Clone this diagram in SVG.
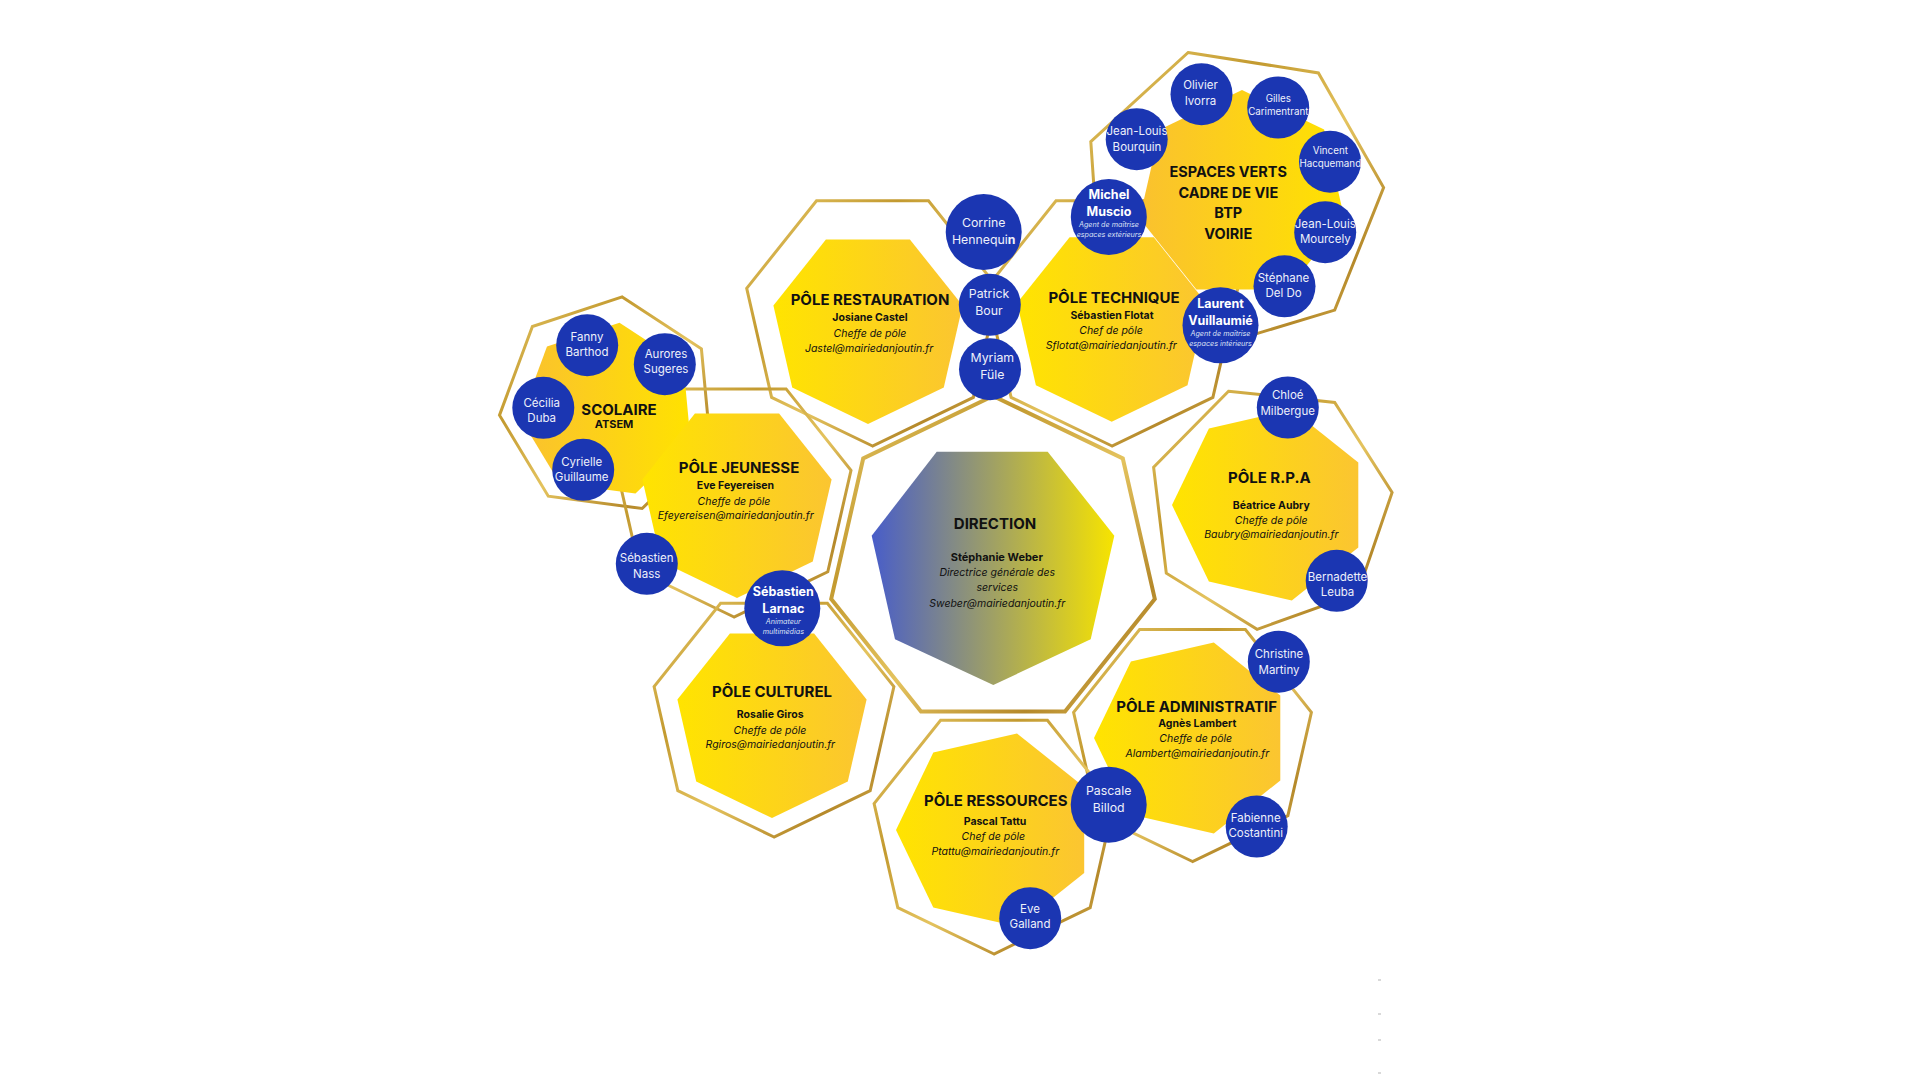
<svg xmlns="http://www.w3.org/2000/svg" width="1920" height="1080" viewBox="0 0 1920 1080">
<defs>
<linearGradient id="gy" x1="0" y1="0" x2="1" y2="0"><stop offset="0" stop-color="#FFE400"/><stop offset="1" stop-color="#FBC531"/></linearGradient>
<linearGradient id="gyr" x1="0" y1="0" x2="1" y2="0"><stop offset="0" stop-color="#FAC12F"/><stop offset="1" stop-color="#FFE200"/></linearGradient>
<linearGradient id="gdir" x1="0" y1="0" x2="1" y2="0"><stop offset="0" stop-color="#485DC9"/><stop offset="1" stop-color="#F7E400"/></linearGradient>
<linearGradient id="gold" x1="0" y1="0" x2="1" y2="1"><stop offset="0" stop-color="#E8CA68"/><stop offset="0.3" stop-color="#C39A30"/><stop offset="0.55" stop-color="#E4C35E"/><stop offset="0.8" stop-color="#B5892A"/><stop offset="1" stop-color="#DDB955"/></linearGradient>
<style>
.t{font-family:Inter,"Liberation Sans",sans-serif;text-anchor:middle}
.ti{font-weight:700;font-size:15px;fill:#111}
.ev{font-weight:700;font-size:14.5px;fill:#111}
.nm{font-weight:700;font-size:10.5px;fill:#111}
.it{font-style:italic;font-size:10.5px;fill:#111}
.pn{font-size:11.5px;fill:#EEF0FA}
.pl{font-size:12.3px;fill:#EEF0FA}
.ps{font-size:9.8px;fill:#EEF0FA}
.pb{font-weight:700;font-size:12.5px;fill:#fff}
.sb{font-style:italic;font-size:7.2px;fill:#DCE1F5}
.ring{fill:none;stroke:url(#gold);stroke-width:3;stroke-linejoin:miter}
.fy{fill:url(#gy)}
.fr{fill:url(#gyr)}
.c{fill:#1B36B2}
</style>
</defs>
<rect width="1920" height="1080" fill="#ffffff"/>

<g id="frames">
<polygon class="ring" points="872.5,446 771.6,397.4 746.7,288.3 816.5,200.8 928.5,200.8 998.3,288.3 973.4,397.4"/>
<polygon class="ring" points="1112,446 1011.1,397.4 986.2,288.3 1056,200.8 1168,200.8 1237.8,288.3 1212.9,397.4"/>
<polygon class="ring" points="1188.1,52.5 1318.4,72.9 1383.6,187.6 1334.7,310.1 1208.5,348.2 1099.9,273.2 1090.8,141.6"/>
<polygon class="ring" points="622.2,296.9 701.4,348.8 710.2,442.9 642.1,508.5 548.3,496.2 499.5,415.2 532.4,326.5"/>
<polygon class="ring" points="734,617 640.2,571.8 617,470.3 681.9,388.9 786.1,388.9 851,470.3 827.8,571.8"/>
<polygon class="ring" points="774,837 677.8,790.7 654.1,686.6 720.6,603.2 827.4,603.2 893.9,686.6 870.2,790.7"/>
<polygon class="ring" style="stroke-width:4" points="993,396 1122.8,458.5 1154.8,598.9 1065,711.6 921,711.6 831.2,598.9 863.2,458.5"/>
<polygon class="ring" points="1228.5,391.2 1334.7,402.4 1392.1,492.4 1357.6,593.4 1257.1,629.3 1166.3,573.2 1153.6,467.2"/>
<polygon class="ring" points="1192.5,861.5 1097.1,815.6 1073.6,712.4 1139.6,629.6 1245.4,629.6 1311.4,712.4 1287.9,815.6"/>
<polygon class="ring" points="994,954 897.8,907.7 874.1,803.6 940.6,720.2 1047.4,720.2 1113.9,803.6 1090.2,907.7"/>
</g>

<g id="pole-scolaire">
<polygon class="fr" points="619.5,322.8 683.4,364.6 690.5,440.6 635.5,493.6 559.8,483.6 520.4,418.2 547,346.6"/>
<text class="t ti" x="619" y="415">SCOLAIRE</text>
<text class="t nm" x="614" y="428.3" style="font-size:11px">ATSEM</text>
</g>

<g id="pole-jeunesse">
<polygon class="fy" points="737,598 661.2,561.5 642.4,479.4 694.9,413.6 779.1,413.6 831.6,479.4 812.8,561.5"/>
<text class="t ti" x="739" y="472.7">PÔLE JEUNESSE</text>
<text class="t nm" x="735.5" y="489.3">Eve Feyereisen</text>
<text class="t it" x="734" y="505">Cheffe de pôle</text>
<text class="t it" x="735.7" y="519.3">Efeyereisen@mairiedanjoutin.fr</text>
</g>

<g id="pole-restauration">
<polygon class="fy" points="868,424 792.2,387.5 773.4,305.4 825.9,239.6 909.9,239.6 962.6,305.4 943.8,387.5"/>
<text class="t ti" x="870" y="305">PÔLE RESTAURATION</text>
<text class="t nm" x="870" y="320.7">Josiane Castel</text>
<text class="t it" x="870" y="337">Cheffe de pôle</text>
<text class="t it" x="869" y="351.7">Jastel@mairiedanjoutin.fr</text>
</g>

<g id="pole-espaces-verts">
<polygon class="fr" points="1242,90 1324.1,129.5 1344.4,218.4 1287.6,289.6 1196.4,289.6 1139.6,218.4 1159.9,129.5"/>
<text class="t ev" x="1228.3" y="176.7">ESPACES VERTS</text>
<text class="t ev" x="1228.3" y="197.7">CADRE DE VIE</text>
<text class="t ev" x="1228.3" y="218.3">BTP</text>
<text class="t ev" x="1228.3" y="239.3">VOIRIE</text>
</g>

<g id="pole-technique">
<polygon class="fy" points="1111.7,421.7 1035.9,385.2 1017.1,303.1 1069.6,237.3 1153.8,237.3 1206.3,303.1 1187.5,385.2"/>
<text class="t ti" x="1114" y="302.7">PÔLE TECHNIQUE</text>
<text class="t nm" x="1112" y="318.7">Sébastien Flotat</text>
<text class="t it" x="1111" y="334">Chef de pôle</text>
<text class="t it" x="1111.3" y="348.5">Sflotat@mairiedanjoutin.fr</text>
</g>

<g id="pole-culturel">
<polygon class="fy" points="772,818 696.2,781.5 677.4,699.4 729.9,633.6 814.1,633.6 866.6,699.4 847.8,781.5"/>
<text class="t ti" x="772" y="696.7">PÔLE CULTUREL</text>
<text class="t nm" x="770.2" y="717.7">Rosalie Giros</text>
<text class="t it" x="770" y="734">Cheffe de pôle</text>
<text class="t it" x="770.3" y="748.3">Rgiros@mairiedanjoutin.fr</text>
</g>

<g id="direction">
<polygon fill="url(#gdir)" points="936.7,451.7 1047.7,451.7 1114.3,535.7 1090.7,639.3 993.3,685 895,639.3 871.7,535.7"/>
<text class="t ti" x="995" y="529">DIRECTION</text>
<text class="t nm" x="996.8" y="561" style="font-size:11px">Stéphanie Weber</text>
<text class="t it" x="997.2" y="575.7">Directrice générale des</text>
<text class="t it" x="997.3" y="591.3">services</text>
<text class="t it" x="997.2" y="606.7">Sweber@mairiedanjoutin.fr</text>
</g>

<g id="pole-rpa">
<polygon class="fy" points="1172,505 1208.9,428.4 1291.8,409.5 1358.3,462.5 1358.3,547.5 1291.8,600.5 1208.9,581.6"/>
<text class="t ti" x="1269.3" y="483.3">PÔLE R.P.A</text>
<text class="t nm" x="1271.3" y="508.7">Béatrice Aubry</text>
<text class="t it" x="1271.2" y="524">Cheffe de pôle</text>
<text class="t it" x="1271.3" y="538.3">Baubry@mairiedanjoutin.fr</text>
</g>

<g id="pole-administratif">
<polygon class="fy" points="1094,738 1130.9,661.4 1213.8,642.5 1280.3,695.5 1280.3,780.5 1213.8,833.5 1130.9,814.6"/>
<text class="t ti" x="1196.7" y="711.7">PÔLE ADMINISTRATIF</text>
<text class="t nm" x="1197.3" y="726.7">Agnès Lambert</text>
<text class="t it" x="1195.7" y="741.7">Cheffe de pôle</text>
<text class="t it" x="1197.3" y="757.3">Alambert@mairiedanjoutin.fr</text>
</g>

<g id="pole-ressources">
<polygon class="fy" points="896,830 933.3,752.6 1017,733.5 1084.2,787 1084.2,873 1017,926.5 933.3,907.4"/>
<text class="t ti" x="995.8" y="805.7">PÔLE RESSOURCES</text>
<text class="t nm" x="995" y="824.7">Pascal Tattu</text>
<text class="t it" x="993.3" y="840">Chef de pôle</text>
<text class="t it" x="995.3" y="855">Ptattu@mairiedanjoutin.fr</text>
</g>

<g id="p-olivier-ivorra"><circle class="c" cx="1201.5" cy="94.2" r="31"/><text class="t pn" x="1200.5" y="89">Olivier</text><text class="t pn" x="1200.5" y="105">Ivorra</text></g>
<g id="p-gilles-carimentrant"><circle class="c" cx="1278.2" cy="107.5" r="31"/><text class="t ps" x="1278.3" y="102.3">Gilles</text><text class="t ps" x="1278.3" y="115">Carimentrant</text></g>
<g id="p-jean-louis-bourquin"><circle class="c" cx="1136.7" cy="139.2" r="31"/><text class="t pn" x="1137" y="135">Jean-Louis</text><text class="t pn" x="1137" y="151">Bourquin</text></g>
<g id="p-vincent-hacquemand"><circle class="c" cx="1330" cy="161.7" r="31"/><text class="t ps" x="1330.3" y="154">Vincent</text><text class="t ps" x="1330.3" y="167.3">Hacquemand</text></g>
<g id="p-michel-muscio"><circle class="c" cx="1108.8" cy="217" r="38"/><text class="t pb" x="1109" y="199">Michel</text><text class="t pb" x="1109" y="216">Muscio</text><text class="t sb" x="1109" y="226.7">Agent de maîtrise</text><text class="t sb" x="1109" y="236.7">espaces extérieurs</text></g>
<g id="p-jean-louis-mourcely"><circle class="c" cx="1325.2" cy="232.2" r="31"/><text class="t pn" x="1325.3" y="227.7">Jean-Louis</text><text class="t pn" x="1325.3" y="243.3">Mourcely</text></g>
<g id="p-stephane-del-do"><circle class="c" cx="1284.5" cy="286.3" r="31"/><text class="t pn" x="1283.5" y="282.3">Stéphane</text><text class="t pn" x="1283.5" y="296.7">Del Do</text></g>
<g id="p-laurent-vuillaumie"><circle class="c" cx="1220.5" cy="325.3" r="38"/><text class="t pb" x="1220.5" y="308.3">Laurent</text><text class="t pb" x="1220.5" y="325">Vuillaumié</text><text class="t sb" x="1220.5" y="336">Agent de maîtrise</text><text class="t sb" x="1220.5" y="345.7">espaces intérieurs</text></g>
<g id="p-corrine-hennequin"><circle class="c" cx="983.7" cy="232" r="38"/><text class="t pl" x="983.7" y="227">Corrine</text><text class="t pl" x="983.7" y="244">Hennequi<tspan font-weight="700">n</tspan></text></g>
<g id="p-patrick-bour"><circle class="c" cx="989.8" cy="304.8" r="31"/><text class="t pl" x="989" y="297.7">Patrick</text><text class="t pl" x="989" y="314.7">Bour</text></g>
<g id="p-myriam-fule"><circle class="c" cx="990" cy="369.2" r="31"/><text class="t pl" x="992.3" y="362">Myriam</text><text class="t pl" x="992.3" y="379">Füle</text></g>
<g id="p-fanny-barthod"><circle class="c" cx="587.2" cy="345.2" r="31"/><text class="t pn" x="587" y="341">Fanny</text><text class="t pn" x="587" y="356">Barthod</text></g>
<g id="p-aurores-sugeres"><circle class="c" cx="664.8" cy="364.2" r="31"/><text class="t pn" x="666" y="357.7">Aurores</text><text class="t pn" x="666" y="373.3">Sugeres</text></g>
<g id="p-cecilia-duba"><circle class="c" cx="543.3" cy="407.8" r="31"/><text class="t pn" x="541.7" y="406.7">Cécilia</text><text class="t pn" x="541.7" y="421.7">Duba</text></g>
<g id="p-cyrielle-guillaume"><circle class="c" cx="583.2" cy="469.8" r="31"/><text class="t pn" x="581.7" y="466">Cyrielle</text><text class="t pn" x="581.7" y="481">Guillaume</text></g>
<g id="p-sebastien-nass"><circle class="c" cx="646.8" cy="563.8" r="31"/><text class="t pn" x="646.7" y="561.7">Sébastien</text><text class="t pn" x="646.7" y="577.7">Nass</text></g>
<g id="p-sebastien-larnac"><circle class="c" cx="782.3" cy="608.3" r="38"/><text class="t pb" x="783.3" y="596">Sébastien</text><text class="t pb" x="783.3" y="612.7">Larnac</text><text class="t sb" x="783.3" y="624.3">Animateur</text><text class="t sb" x="783.3" y="634">multimédias</text></g>
<g id="p-chloe-milbergue"><circle class="c" cx="1287.8" cy="407.5" r="31"/><text class="t pn" x="1287.7" y="399.3">Chloé</text><text class="t pn" x="1287.7" y="415">Milbergue</text></g>
<g id="p-bernadette-leuba"><circle class="c" cx="1336.7" cy="580.8" r="31"/><text class="t pn" x="1337.5" y="580.7">Bernadette</text><text class="t pn" x="1337.5" y="596">Leuba</text></g>
<g id="p-christine-martiny"><circle class="c" cx="1278.8" cy="661.7" r="31"/><text class="t pn" x="1279" y="658.3">Christine</text><text class="t pn" x="1279" y="674.3">Martiny</text></g>
<g id="p-pascale-billod"><circle class="c" cx="1108.7" cy="804.7" r="38"/><text class="t pl" x="1108.7" y="795">Pascale</text><text class="t pl" x="1108.7" y="811.7">Billod</text></g>
<g id="p-fabienne-costantini"><circle class="c" cx="1256.7" cy="826.5" r="31"/><text class="t pn" x="1255.7" y="822.3">Fabienne</text><text class="t pn" x="1255.7" y="837.3">Costantini</text></g>
<g id="p-eve-galland"><circle class="c" cx="1030.2" cy="918.2" r="31"/><text class="t pn" x="1030" y="913.3">Eve</text><text class="t pn" x="1030" y="928.3">Galland</text></g>

<g id="marks" fill="#D9D9D9">
<rect x="1378" y="979" width="3" height="2"/>
<rect x="1378" y="1013" width="3" height="2"/>
<rect x="1378" y="1039" width="3" height="2"/>
<rect x="1378" y="1072" width="3" height="2"/>
</g>
</svg>
